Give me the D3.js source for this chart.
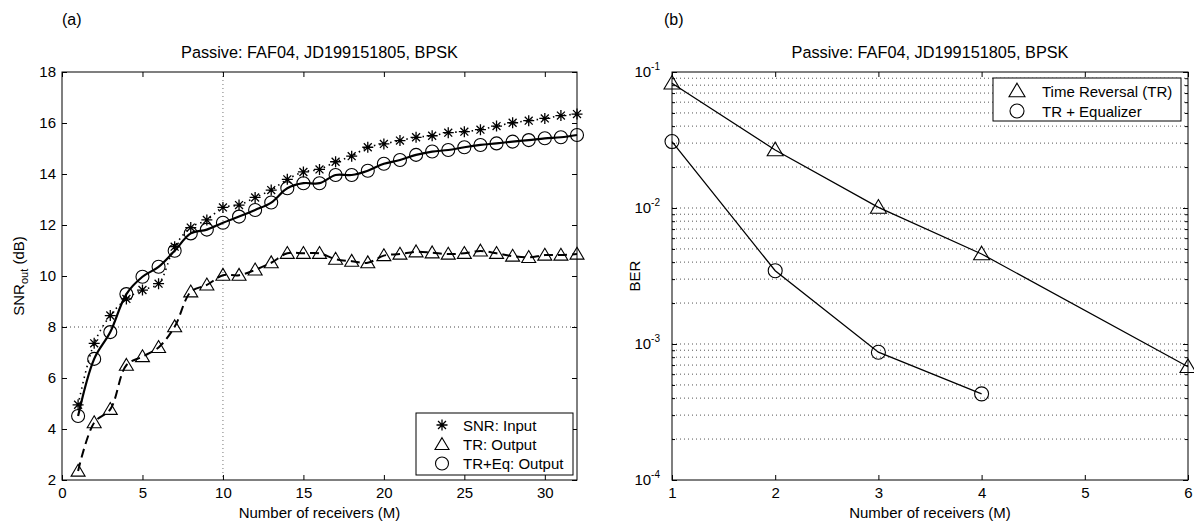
<!DOCTYPE html>
<html><head><meta charset="utf-8">
<script src="https://cdn.jsdelivr.net/npm/d3@7"></script>
<style>
body{margin:0;background:#fff;}
text{font-family:"Liberation Sans",Arial,sans-serif;fill:#000;}
</style></head>
<body><svg id="c" width="1194" height="523"></svg>
<script>
// ---------- data ----------
const receiversA = d3.range(1, 33);
const snrInput = [4.95,7.36,8.45,9.1,9.45,9.7,11.15,11.9,12.2,12.69,12.78,13.08,13.37,13.79,14.08,14.18,14.48,14.7,15.05,15.18,15.31,15.44,15.5,15.62,15.66,15.74,15.88,16.01,16.09,16.18,16.29,16.35];
const trOutput = [2.35,4.25,4.77,6.5,6.84,7.2,8.01,9.38,9.65,10.03,10.03,10.24,10.52,10.89,10.89,10.89,10.66,10.58,10.52,10.8,10.86,10.95,10.91,10.86,10.89,10.98,10.89,10.78,10.73,10.82,10.82,10.86];
const trEqOutput = [4.51,6.75,7.8,9.29,9.97,10.36,10.99,11.67,11.82,12.09,12.33,12.59,12.88,13.44,13.64,13.64,13.96,13.96,14.13,14.4,14.55,14.75,14.88,14.94,15.05,15.14,15.2,15.27,15.33,15.4,15.44,15.53];
const xTicksA = [0,5,10,15,20,25,30];
const yTicksA = [2,4,6,8,10,12,14,16,18];
const legendA = ["SNR: Input","TR: Output","TR+Eq: Output"];

const receiversTR = [1,2,3,4,6];
const berTR = [0.0826,0.0267,0.0101,0.00459,0.00068];
const receiversEq = [1,2,3,4];
const berEq = [0.0308,0.00346,0.00087,0.00043];
const xTicksB = [1,2,3,4,5,6];
const yTicksB = [-4,-3,-2,-1];
const legendB = ["Time Reversal (TR)","TR + Equalizer"];
const titleText = "Passive: FAF04, JD199151805, BPSK";

// ---------- helpers ----------
const svg = d3.select("#c");
const FS = 15;

function triPath(s){
  const h = s*0.85;
  return `M0,${-h*1.15}L${s},${h*0.85}L${-s},${h*0.85}Z`;
}
function drawTri(g,x,y,s){
  g.append("path").attr("d",triPath(s)).attr("transform",`translate(${x},${y})`)
   .attr("fill","none").attr("stroke","#000").attr("stroke-width",1.1);
}
function drawCirc(g,x,y,r){
  g.append("circle").attr("cx",x).attr("cy",y).attr("r",r)
   .attr("fill","none").attr("stroke","#000").attr("stroke-width",1.1);
}
function drawStar(g,x,y,r){
  const d = r*0.72;
  g.append("path").attr("d",`M${x-r},${y}L${x+r},${y}M${x},${y-r}L${x},${y+r}M${x-d},${y-d}L${x+d},${y+d}M${x-d},${y+d}L${x+d},${y-d}`)
   .attr("stroke","#000").attr("stroke-width",1.3).attr("fill","none");
}
function frame(x0,x1,y0,y1){
  svg.append("rect").attr("x",x0).attr("y",y0).attr("width",x1-x0).attr("height",y1-y0)
    .attr("fill","none").attr("stroke","#000").attr("stroke-width",1);
}
function styleAxis(g){
  g.select(".domain").remove();
  g.selectAll("line").attr("stroke","#000");
  g.selectAll("text").style("font-size",FS+"px").style("font-family","'Liberation Sans',Arial,sans-serif");
}

// ---------- Panel (a) ----------
const xA = d3.scaleLinear().domain([0,32]).range([62,577]);
const yA = d3.scaleLinear().domain([2,18]).range([480,72]);

svg.append("line").attr("x1",xA(10)).attr("x2",xA(10)).attr("y1",yA(18)).attr("y2",yA(2))
  .attr("stroke","#777").attr("stroke-dasharray","1,3");
svg.append("line").attr("x1",xA(0)).attr("x2",xA(32)).attr("y1",yA(8)).attr("y2",yA(8))
  .attr("stroke","#444").attr("stroke-dasharray","1,3");

svg.append("g").attr("transform",`translate(0,${yA(2)})`)
  .call(d3.axisBottom(xA).tickValues(xTicksA).tickSize(-5).tickPadding(7)).call(styleAxis);
svg.append("g").attr("transform",`translate(0,${yA(18)})`)
  .call(d3.axisTop(xA).tickValues(xTicksA).tickSize(-5).tickFormat("")).call(styleAxis);
svg.append("g").attr("transform",`translate(${xA(0)},0)`)
  .call(d3.axisLeft(yA).tickValues(yTicksA).tickSize(-5).tickPadding(6)).call(styleAxis);
svg.append("g").attr("transform",`translate(${xA(32)},0)`)
  .call(d3.axisRight(yA).tickValues(yTicksA).tickSize(-5).tickFormat("")).call(styleAxis);
frame(xA(0),xA(32),yA(18),yA(2));

const curveA = d3.curveCatmullRom.alpha(0.5);
const lineA = arr => d3.line().x((d,i)=>xA(receiversA[i])).y(d=>yA(d)).curve(curveA)(arr);
svg.append("path").attr("d",lineA(snrInput)).attr("fill","none").attr("stroke","#000")
  .attr("stroke-width",1.6).attr("stroke-dasharray","1.5,4");
svg.append("path").attr("d",lineA(trOutput)).attr("fill","none").attr("stroke","#000")
  .attr("stroke-width",2).attr("stroke-dasharray","9,5");
svg.append("path").attr("d",lineA(trEqOutput)).attr("fill","none").attr("stroke","#000")
  .attr("stroke-width",2.2);

const mA = svg.append("g");
receiversA.forEach((r,i)=>{
  drawStar(mA,xA(r),yA(snrInput[i]),5.5);
  drawTri(mA,xA(r),yA(trOutput[i]),7);
  drawCirc(mA,xA(r),yA(trEqOutput[i]),6.5);
});

svg.append("text").attr("x",(xA(0)+xA(32))/2).attr("y",58).attr("text-anchor","middle")
  .style("font-size","16.3px").text(titleText);
svg.append("text").attr("x",62).attr("y",25).style("font-size","16px").text("(a)");
svg.append("text").attr("x",(xA(0)+xA(32))/2).attr("y",518).attr("text-anchor","middle")
  .style("font-size",FS+"px").text("Number of receivers (M)");
const yl = svg.append("text").attr("transform",`translate(24,${(yA(2)+yA(18))/2}) rotate(-90)`)
  .attr("text-anchor","middle").style("font-size",FS+"px");
yl.append("tspan").text("SNR");
yl.append("tspan").attr("dy",4).style("font-size","11px").text("out");
yl.append("tspan").attr("dy",-4).text(" (dB)");

const lgA = svg.append("g");
lgA.append("rect").attr("x",416).attr("y",413).attr("width",157).attr("height",62)
  .attr("fill","#fff").attr("stroke","#000").attr("stroke-width",1);
const rowsA = [425,444.5,463.5];
drawStar(lgA,442,rowsA[0],5.5);
drawTri(lgA,442,rowsA[1],7);
drawCirc(lgA,442,rowsA[2],6.5);
legendA.forEach((t,i)=>{
  lgA.append("text").attr("x",463).attr("y",rowsA[i]+5.5).style("font-size",FS+"px").text(t);
});

// ---------- Panel (b) ----------
const xB = d3.scaleLinear().domain([1,6]).range([672,1188]);
const yB = d3.scaleLog().domain([1e-4,1e-1]).range([480,72]);

const gridVals = [];
for (let e=-4;e<-1+1e-9;e++){ for(let m=1;m<10;m++){ const v=m*Math.pow(10,e); if(v<=0.1+1e-12) gridVals.push(v);} }
svg.append("g").selectAll("line").data(gridVals.filter(v=>v>1e-4 && v<0.1)).join("line")
  .attr("x1",xB(1)).attr("x2",xB(6)).attr("y1",d=>yB(d)).attr("y2",d=>yB(d))
  .attr("stroke","#555").attr("stroke-width",1).attr("stroke-dasharray","1,3");

svg.append("g").attr("transform",`translate(0,${yB(1e-4)})`)
  .call(d3.axisBottom(xB).tickValues(xTicksB).tickSize(-5).tickPadding(7).tickFormat(d3.format("d"))).call(styleAxis);
svg.append("g").attr("transform",`translate(0,${yB(1e-1)})`)
  .call(d3.axisTop(xB).tickValues(xTicksB).tickSize(-5).tickFormat("")).call(styleAxis);
const minorB = gridVals.filter(v=>v>1e-4 && v<0.1 && Math.abs(Math.log10(v)-Math.round(Math.log10(v)))>1e-6);
svg.append("g").attr("transform",`translate(${xB(1)},0)`)
  .call(d3.axisLeft(yB).tickValues(minorB).tickSize(-3).tickFormat("")).call(styleAxis);
svg.append("g").attr("transform",`translate(${xB(6)},0)`)
  .call(d3.axisRight(yB).tickValues(minorB).tickSize(-3).tickFormat("")).call(styleAxis);
svg.append("g").attr("transform",`translate(${xB(1)},0)`)
  .call(d3.axisLeft(yB).tickValues(yTicksB.map(e=>Math.pow(10,e))).tickSize(-5).tickFormat("")).call(styleAxis);
svg.append("g").attr("transform",`translate(${xB(6)},0)`)
  .call(d3.axisRight(yB).tickValues(yTicksB.map(e=>Math.pow(10,e))).tickSize(-5).tickFormat("")).call(styleAxis);
yTicksB.forEach(e=>{
  const t = svg.append("text").attr("x",660).attr("y",yB(Math.pow(10,e))+5).attr("text-anchor","end")
    .style("font-size",FS+"px");
  t.append("tspan").text("10");
  t.append("tspan").attr("dy",-7).style("font-size","10px").text(String(e));
});
frame(xB(1),xB(6),yB(1e-1),yB(1e-4));

const lineB = (xs,ys) => d3.line().x((d,i)=>xB(xs[i])).y(d=>yB(d))(ys);
svg.append("path").attr("d",lineB(receiversTR,berTR)).attr("fill","none").attr("stroke","#000").attr("stroke-width",1.3);
svg.append("path").attr("d",lineB(receiversEq,berEq)).attr("fill","none").attr("stroke","#000").attr("stroke-width",1.3);
const mB = svg.append("g");
receiversTR.forEach((r,i)=>drawTri(mB,xB(r),yB(berTR[i]),8));
receiversEq.forEach((r,i)=>drawCirc(mB,xB(r),yB(berEq[i]),7));

svg.append("text").attr("x",(xB(1)+xB(6))/2).attr("y",58).attr("text-anchor","middle")
  .style("font-size","16.3px").text(titleText);
svg.append("text").attr("x",664).attr("y",25).style("font-size","16px").text("(b)");
svg.append("text").attr("x",(xB(1)+xB(6))/2).attr("y",518).attr("text-anchor","middle")
  .style("font-size",FS+"px").text("Number of receivers (M)");
svg.append("text").attr("transform",`translate(640,${(yB(1e-4)+yB(1e-1))/2}) rotate(-90)`)
  .attr("text-anchor","middle").style("font-size",FS+"px").text("BER");

const lgB = svg.append("g");
lgB.append("rect").attr("x",993).attr("y",78).attr("width",188).attr("height",43)
  .attr("fill","#fff").attr("stroke","#000").attr("stroke-width",1);
drawTri(lgB,1017,91,8);
drawCirc(lgB,1017,111,7);
legendB.forEach((t,i)=>{
  lgB.append("text").attr("x",1042).attr("y",[91,111][i]+5.5).style("font-size",FS+"px").text(t);
});
</script></body></html>
